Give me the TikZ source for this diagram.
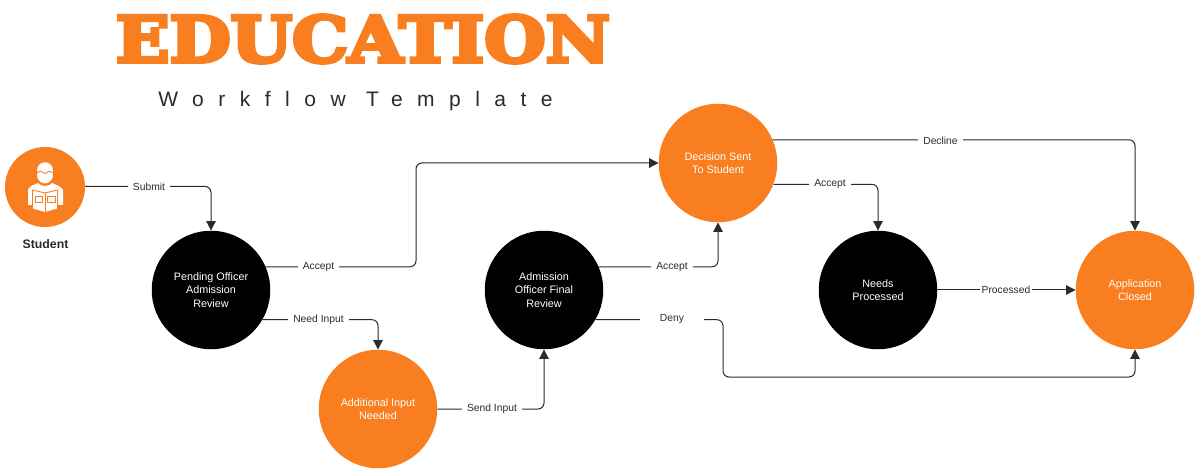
\documentclass[tikz,border=0pt]{standalone}
\usepackage{fontspec}
\usepackage{graphicx}
\usetikzlibrary{arrows.meta}
\setmainfont{Liberation Sans}
\newfontfamily\titlefont[FakeBold=6]{DejaVu Serif Bold}
\definecolor{orng}{HTML}{F87E1F}
\definecolor{ink}{HTML}{2B2B2B}
\tikzset{
  circ/.style={circle,minimum size=118.5pt,inner sep=0pt,align=center,text=white,font=\fontsize{10.8}{13.5}\selectfont},
  orangecirc/.style={circ,fill=orng},
  blackcirc/.style={circ,fill=black},
  flow/.style={draw=ink,line width=1pt,rounded corners=6pt,-{Triangle[length=9.5pt,width=9.5pt]}},
  lab/.style={fill=white,inner xsep=5pt,inner ysep=2pt,text=ink,font=\fontsize{10.3}{12}\selectfont},
}
\begin{document}
\begin{tikzpicture}[x=1pt,y=-1pt]
\useasboundingbox (0,0) rectangle (1200,473);
\fill[white] (0,0) rectangle (1200,473);
% titles
\node[inner sep=0pt,text=orng] (title) at (363,39) {\resizebox{494pt}{47pt}{\titlefont EDUCATION}};
\node[inner sep=0pt,text=ink,font=\fontsize{21}{24}\selectfont] (sub) at (355.5,101) {\addfontfeatures{LetterSpace=69}Workflow Template};
% nodes
\node[orangecirc,minimum size=80pt] (stu) at (45,187) {};
\node[font=\fontsize{12.3}{14}\selectfont\bfseries,text=ink,inner sep=0pt] (stulab) at (45.5,244) {Student};
\node[blackcirc] (pend) at (211,290) {Pending Officer\\Admission\\Review};
\node[orangecirc] (addi) at (378,409) {Additional Input\\Needed};
\node[blackcirc] (final) at (544,290) {Admission\\Officer Final\\Review};
\node[orangecirc] (dec) at (718,163) {Decision Sent\\To Student};
\node[blackcirc] (need) at (878,290) {Needs\\Processed};
\node[orangecirc] (closed) at (1135,290) {Application\\Closed};
% student icon
\begin{scope}[shift={(stu.center)}]
  \fill[white] (-17,3) .. controls (-16,-1) and (-11,-2) .. (-7,-4) .. controls (-4,0) and (4,0) .. (7,-4) .. controls (11,-2) and (16,-1) .. (18,3) -- (18,18) -- (-17,18) -- cycle;
  \fill[white,draw=orng,line width=1pt] (-8.5,-17) .. controls (-8.5,-28) and (8.5,-28) .. (8.5,-17) -- (8.5,-12) .. controls (8.5,-6) and (4,-3) .. (0,-3) .. controls (-4,-3) and (-8.5,-6) .. (-8.5,-12) -- cycle;
  \draw[orng,line width=0.8pt] (-8,-14) .. controls (-5,-17) and (-2,-15) .. (0,-13.5) .. controls (2,-15) and (5,-17) .. (8,-14);
  \fill[white,draw=orng,line width=0.9pt] (-12.5,3) -- (0,6) -- (12.5,3) -- (12.5,22) -- (0,25.5) -- (-12.5,22) -- cycle;
  \draw[orng,line width=0.6pt] (0,6) -- (0,25);
  \draw[orng,line width=0.7pt] (-10,9.5) rectangle (-2.5,15.5);
  \draw[orng,line width=0.7pt] (2.5,9.5) rectangle (10,15.5);
\end{scope}
% helper corners
\coordinate (c1) at (416,215);
\coordinate (c2) at (723,348);
\coordinate (c3) at (930,377);
% connectors
\draw[flow] (stu.east) ++(0,-0.5) -| (pend.north);
\draw[flow] (pend.23) -| (c1) |- (dec.west);
\draw[flow] (pend.-30) -| (addi.north);
\draw[flow] (addi.east) -| (final.south);
\draw[flow] (final.23) -| (dec.south);
\draw[flow] (final.-30) -| (c2) |- (c3) -| (closed.south);
\draw[flow] (dec.23) -| (closed.north);
\draw[flow] (dec.-21) -| (need.north);
\draw[flow] (need.east) -- (closed.west);
% labels
\node[lab] (l1) at (149,186.5) {Submit};
\node[lab] (l2a) at (318.5,267.5) {Accept};
\node[lab] (l3) at (318.5,319.5) {Need Input};
\node[lab] (l4) at (492,408.5) {Send Input};
\node[lab] (l5) at (672,267.5) {Accept};
\node[lab,inner xsep=19.5pt] (l6) at (672,319.5) {Deny};
\node[lab] (l7) at (940.5,140.5) {Decline};
\node[lab] (l8) at (830,184.5) {Accept};
\node[lab,inner xsep=1.5pt] (l9) at (1006,289.5) {Processed};
\end{tikzpicture}
\end{document}
